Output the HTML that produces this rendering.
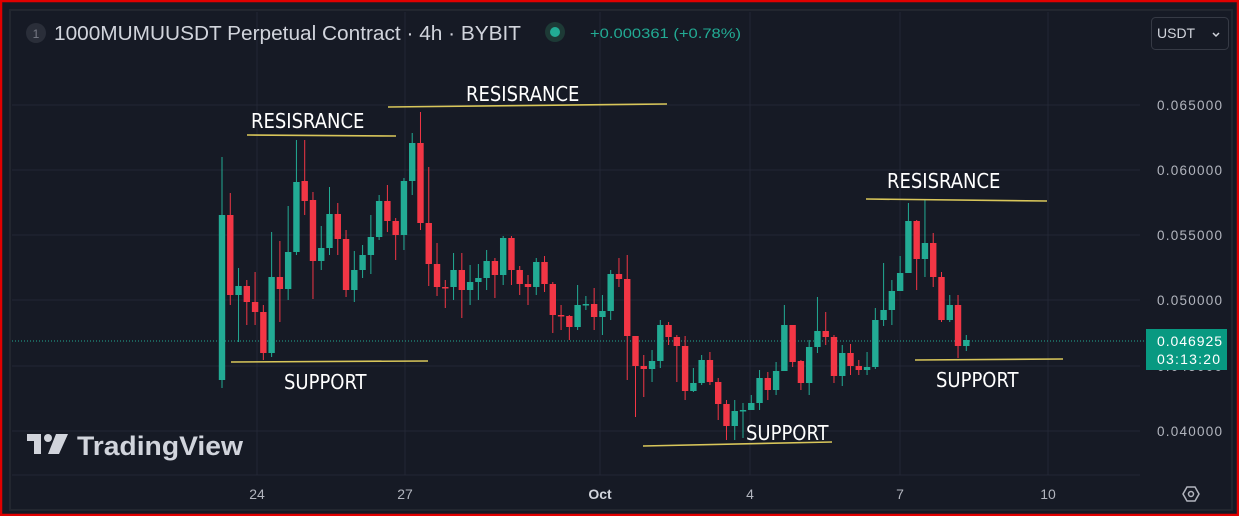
<!DOCTYPE html>
<html><head><meta charset="utf-8"><style>
html,body{margin:0;padding:0;background:#161a25;}
body{width:1239px;height:516px;overflow:hidden;position:relative;font-family:"Liberation Sans","DejaVu Sans",sans-serif;}
svg{position:absolute;left:0;top:0;}
</style></head><body>
<svg id="s" width="1239" height="516" xmlns="http://www.w3.org/2000/svg">
<rect x="0" y="0" width="1239" height="516" fill="#161a25"/>
<rect x="10" y="10" width="1222" height="500" fill="#161a25" stroke="#22262f" stroke-width="2"/>
<g stroke="#232735" stroke-width="1">
<line x1="12" y1="105" x2="1140" y2="105"/><line x1="12" y1="170" x2="1140" y2="170"/>
<line x1="12" y1="235" x2="1140" y2="235"/><line x1="12" y1="300" x2="1140" y2="300"/>
<line x1="12" y1="366" x2="1140" y2="366"/><line x1="12" y1="431" x2="1140" y2="431"/>
<line x1="257" y1="12" x2="257" y2="475"/><line x1="405" y1="12" x2="405" y2="475"/>
<line x1="600" y1="12" x2="600" y2="475"/><line x1="750" y1="12" x2="750" y2="475"/>
<line x1="900" y1="12" x2="900" y2="475"/><line x1="1048" y1="12" x2="1048" y2="475"/>
<line x1="12" y1="475" x2="1140" y2="475"/>
</g>
<line x1="12" y1="341" x2="1146" y2="341" stroke="#22ab94" stroke-width="1" stroke-dasharray="1,2"/>
<g id="c"></g>
<g stroke="#d8c65a" stroke-width="1.6">
<line x1="247" y1="135" x2="396" y2="136"/>
<line x1="388" y1="107" x2="667" y2="104"/>
<line x1="866" y1="199" x2="1047" y2="201"/>
<line x1="231" y1="362" x2="428" y2="361"/>
<line x1="643" y1="446" x2="832" y2="442"/>
<line x1="915" y1="360" x2="1063" y2="359"/>
</g>
<g fill="#ffffff" font-size="20" font-family="'DejaVu Sans Condensed','Liberation Sans Narrow','Liberation Sans',sans-serif">
<text x="251" y="128">RESISRANCE</text>
<text x="466" y="101">RESISRANCE</text>
<text x="887" y="188">RESISRANCE</text>
<text x="284" y="389">SUPPORT</text>
<text x="746" y="440">SUPPORT</text>
<text x="936" y="387">SUPPORT</text>
</g>
<circle cx="36" cy="33" r="10" fill="#2a2e39"/>
<text x="36" y="38" fill="#787b86" font-size="12" text-anchor="middle">1</text>
<text x="54" y="40" fill="#d1d4dc" font-size="20" textLength="467" lengthAdjust="spacingAndGlyphs">1000MUMUUSDT Perpetual Contract · 4h · BYBIT</text>
<circle cx="555" cy="32" r="10" fill="#1d3a36"/><circle cx="555" cy="32" r="5" fill="#22ab94"/>
<text x="590" y="38" fill="#22ab94" font-size="14" textLength="151" lengthAdjust="spacingAndGlyphs">+0.000361 (+0.78%)</text>
<rect x="1151.5" y="17.5" width="77" height="32" rx="4" fill="#161a25" stroke="#363a45"/>
<text x="1157" y="38" fill="#d1d4dc" font-size="14">USDT</text>
<path d="M1213 33 l3 3 l3 -3" stroke="#d1d4dc" fill="none" stroke-width="1.5"/>
<g fill="#b2b5be" font-size="13.5">
<text x="1157" y="110" textLength="65">0.065000</text><text x="1157" y="175" textLength="65">0.060000</text>
<text x="1157" y="240" textLength="65">0.055000</text><text x="1157" y="305" textLength="65">0.050000</text>
<text x="1157" y="371" textLength="65">0.045000</text><text x="1157" y="436" textLength="65">0.040000</text>
</g>
<rect x="1146" y="329" width="81" height="41" fill="#089981"/>
<text x="1157" y="346" fill="#fff" font-size="14" textLength="65">0.046925</text>
<text x="1157" y="364" fill="#fff" font-size="14" textLength="63">03:13:20</text>
<g fill="#b2b5be" font-size="14" text-anchor="middle">
<text x="257" y="499">24</text><text x="405" y="499">27</text><text x="600" y="499" font-weight="bold" fill="#d1d4dc">Oct</text>
<text x="750" y="499">4</text><text x="900" y="499">7</text><text x="1048" y="499">10</text>
</g>
<path d="M1183 494 l4 -7 h8 l4 7 l-4 7 h-8z" fill="none" stroke="#b2b5be" stroke-width="1.5"/>
<circle cx="1191" cy="494" r="2.5" fill="none" stroke="#b2b5be" stroke-width="1.5"/>
<g fill="#d1d4dc">
<rect x="27" y="434" width="14" height="7"/><rect x="34" y="434" width="7" height="20"/>
<circle cx="48" cy="438" r="4"/><path d="M56 434 h12 l-9 20 h-11z"/>
</g>
<text x="77" y="455" fill="#d1d4dc" font-size="27" font-weight="bold" textLength="166" lengthAdjust="spacingAndGlyphs">TradingView</text>
<rect x="1" y="1" width="1237" height="514" fill="none" stroke="#e00000" stroke-width="2.5"/>
</svg>
<script>
var d=[[380,215,157,388],[215,295,193,305],[295,286,268,342],[286,302,280,325],[302,312,272,325],[312,353,305,360],[353,277,232,357],[277,289,241,322],[289,252,206,300],[252,182,140,255],[181,201,140,215],[200,261,192,299],[261,248,226,270],[248,214,187,255],[214,239,203,255],[239,290,230,297],[290,270,251,302],[270,255,245,278],[255,237,215,274],[237,201,195,240],[201,221,185,232],[221,235,218,260],[235,181,178,250],[181,143,133,195],[143,223,112,230],[223,264,167,286],[264,287,243,296],[287,288,280,308],[287,270,253,300],[270,290,253,318],[290,282,265,305],[282,278,264,300],[278,261,250,290],[261,275,258,298],[275,238,236,285],[238,270,236,285],[270,284,266,295],[284,287,275,305],[287,262,258,295],[262,284,256,292],[284,315,282,333],[315,316,305,330],[316,327,315,340],[327,305,285,330],[305,304,296,310],[304,317,288,330],[317,311,295,335],[311,274,270,320],[274,279,258,287],[279,336,255,380],[336,366,336,417],[366,369,355,397],[369,361,350,382],[361,325,320,368],[325,337,322,345],[337,346,335,382],[346,391,336,400],[391,383,368,392],[383,360,355,385],[360,382,352,385],[382,404,378,420],[404,426,400,440],[426,411,400,440],[411,410,403,438],[410,403,395,410],[403,378,370,410],[378,390,372,400],[390,371,362,395],[371,325,305,370],[325,362,325,367],[361,383,360,390],[383,347,340,395],[347,331,297,353],[331,337,312,345],[337,376,335,383],[376,353,345,386],[353,366,344,375],[366,370,360,375],[370,367,352,375],[367,320,308,369],[320,310,263,326],[310,291,280,325],[291,273,256,291],[273,221,203,273],[221,259,220,290],[259,243,200,277],[243,277,233,287],[277,320,272,322],[320,305,295,322],[305,346,295,358],[346,340,335,351]];
var g=document.getElementById('c'),h='';
for(var i=0;i<d.length;i++){var x=222+i*8.27,o=d[i][0],c=d[i][1],up=c<o,col=up?'#22ab94':'#f23645',t=Math.min(o,c),b=Math.max(Math.abs(o-c),1.5);
h+='<line x1="'+x+'" x2="'+x+'" y1="'+d[i][2]+'" y2="'+d[i][3]+'" stroke="'+col+'" stroke-width="1"/>';
h+='<rect x="'+(x-3.2)+'" y="'+t+'" width="6.4" height="'+b+'" fill="'+col+'"/>';}
g.innerHTML=h;
</script>
</body></html>
